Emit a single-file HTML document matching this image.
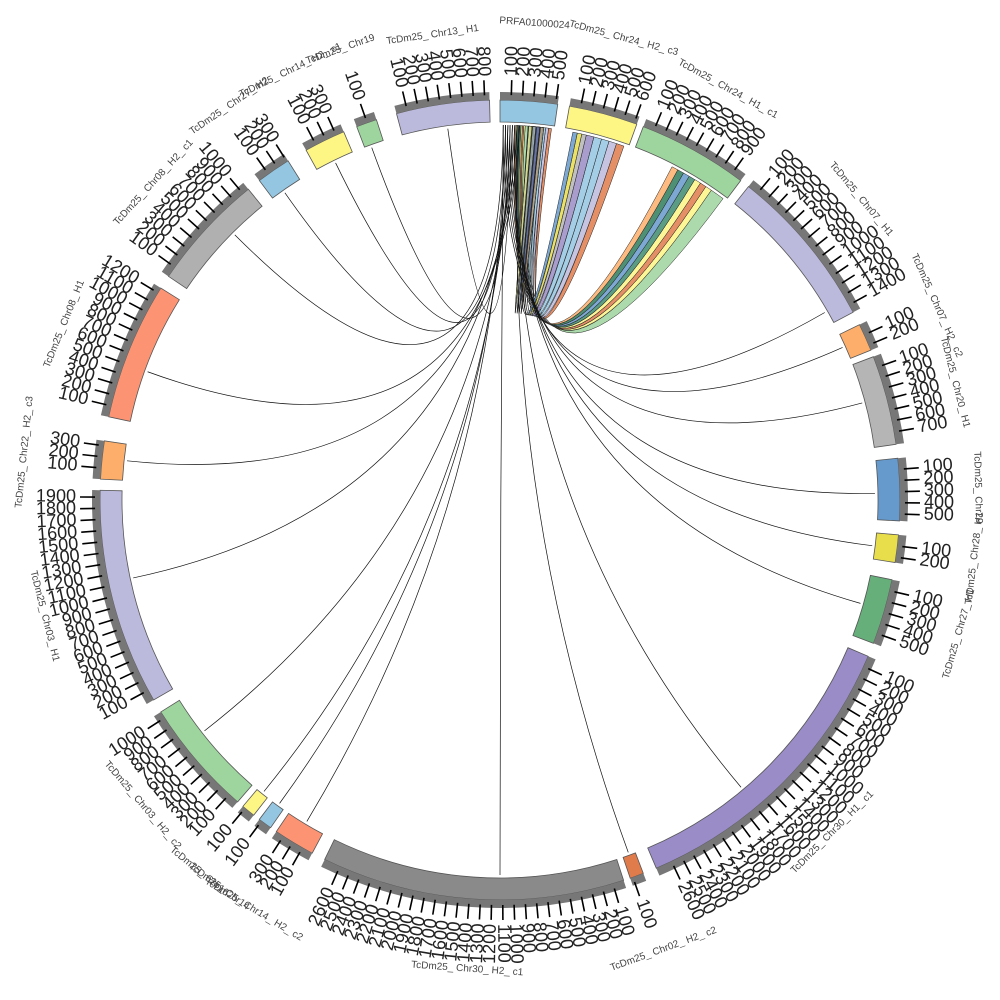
<!DOCTYPE html>
<html><head><meta charset="utf-8"><style>html,body{margin:0;padding:0;background:#fff}svg{display:block}</style></head>
<body><svg id="s" width="1000" height="1000" viewBox="0 0 1000 1000" xmlns="http://www.w3.org/2000/svg"></svg>
<script>
const S=document.getElementById('s');const cx=500,cy=500,R0=378,R1=400;
const segs=[
["PRFA01000024",0,8.3,"#94c6e1"],["TcDm25_Chr24_H2_c3",10,20,"#fdf584"],["TcDm25_Chr24_H1_c1",21,37,"#9ed49e"],
["TcDm25_Chr07_H1",38.4,62,"#bcbadc"],["TcDm25_Chr07_H2_c2",64,68,"#fdae6b"],["TcDm25_Chr20_H1",69,82,"#b5b5b5"],
["TcDm25_Chr29",84,93,"#6699cc"],["TcDm25_Chr28_H1",95,99,"#e8dd4a"],["TcDm25_Chr27_H1",101.5,111,"#66ae7a"],
["TcDm25_Chr30_H1_c1",113,157,"#9a8cc6"],["TcDm25_Chr02_H2_c2",159,161,"#e07b4c"],["TcDm25_Chr30_H2_c1",162,206,"#8a8a8a"],
["TcDm25_Chr14_H2_c2",208,214,"#fc9474"],["TcDm25_Chr14",215,217,"#94c6e1"],["TcDm25_Chr16",218,220,"#fdf584"],
["TcDm25_Chr03_H2_c2",221,238,"#9ed49e"],["TcDm25_Chr03_H1",240,271.4,"#bcbadc"],["TcDm25_Chr22_H2_c3",273,278.5,"#fdae6b"],
["TcDm25_Chr08_H1",282,302,"#fc9474"],["TcDm25_Chr08_H2_c1",304,321,"#b0b0b0"],["TcDm25_Chr27_H2",323,328,"#94c6e1"],
["TcDm25_Chr14_H2_c1",331,337,"#fdf584"],["TcDm25_Chr19",339,342,"#9ed49e"],["TcDm25_Chr13_H1",345,358.5,"#bcbadc"]];
function P(a,r){const t=a*Math.PI/180;return [cx+r*Math.sin(t),cy-r*Math.cos(t)];}
function arc(a1,a2,r,sw){const p=P(a2,r);return `A${r},${r} 0 ${a2-a1>180?1:0},${sw} ${p[0].toFixed(1)},${p[1].toFixed(1)}`;}
let h='';
const L=[];
function rib(s1,s2,t1,t2,c){const a=P(s1,375),b=P(t1,375);
L.push(`<path d="M${a[0]},${a[1]} ${arc(s1,s2,375,1)} Q${cx},${cy} ${b[0]},${b[1]} ${arc(t1,t2,375,1)} Q${cx},${cy} ${a[0]},${a[1]}Z" fill="${c}" fill-opacity="0.85" stroke="#222" stroke-width="0.5"/>`);}
const c1=["#9ed49e","#fdf584","#e07b4c","#fdf584","#3d8b6e","#6699cc","#2e7d5b","#fdae6b"];
let t=36.5,s=4.3;for(let i=0;i<8;i++){const w=(i==0?2.2:1.0);rib(s-0.3*(i==0?1.5:0.7),s,t-w,t,c1[i]);s-=0.3*(i==0?1.5:0.7);t-=w;}
const c2=["#e07b4c","#bcbadc","#94c6e1","#94c6e1","#9a8cc6","#b5b5b5","#e8dd4a","#6699cc"];
t=19.3;s=7.9;for(let i=0;i<8;i++){const w=(i<5?1.2:0.7);rib(s-0.45,s,t-w,t,c2[i]);s-=0.45;t-=w;}
const c3=["#dfe28a","#94a5b0","#5a6b9a","#b09a7a"];
for(let i=0;i<4;i++){rib(4.4+i*0.6,4.9+i*0.6,4.4+i*0.6,4.9+i*0.6,c3[i]);}
const tg=[60,66,75,89,97,106,140,160,180,211,216,219,232,258,276,290,315,325,334,340,352];
tg.forEach((g,i)=>{const a=P(0.5+(i%8)*0.35,375),b=P(g,375);L.push(`<path d="M${a[0]},${a[1]} Q${cx},${cy} ${b[0]},${b[1]}" fill="none" stroke="#111" stroke-width="0.7"/>`);});
h+=L.join('');
segs.forEach(sg=>{const [n,a1,a2,c]=sg;const p1=P(a1,R0);
h+=`<path d="M${p1[0]},${p1[1]} ${arc(a1,a2,R0,1)} L${P(a2,R1)} ${arc(a2,a1,R1,0)}Z" fill="${c}" stroke="#555" stroke-width="0.8"/>`;
h+=`<path d="M${P(a1,R1)} ${arc(a1,a2,R1,1)} L${P(a2,408)} ${arc(a2,a1,408,0)}Z" fill="#777"/>`;
const step=1.65;const n100=Math.floor((a2-a1)/step);
for(let k=1;k<=n100;k++){const a=a1+k*step*0.97;const q1=P(a,405),q2=P(a,420);
h+=`<line x1="${q1[0]}" y1="${q1[1]}" x2="${q2[0]}" y2="${q2[1]}" stroke="#000" stroke-width="1.6"/>`;
const q=P(a,424);const right=(a<180);const rot=right?a-90:a+90;
h+=`<text x="${q[0]}" y="${q[1]}" transform="rotate(${rot.toFixed(1)} ${q[0]} ${q[1]})" font-size="18" font-family="Liberation Sans" fill="#222" text-anchor="${right?'start':'end'}" dominant-baseline="middle">${k*100}</text>`;}
const am=(a1+a2)/2;const q=P(am,(a2-a1)>12?470:478);let r=am;if(am>90&&am<270)r=am-180;
h+=`<text x="${q[0]}" y="${q[1]}" transform="rotate(${r.toFixed(1)} ${q[0]} ${q[1]})" font-size="10" font-family="Liberation Sans" fill="#444" text-anchor="middle" dominant-baseline="middle">${n.replace(/_/g,'_ ')}</text>`;
});
S.innerHTML=h;
</script></body></html>
